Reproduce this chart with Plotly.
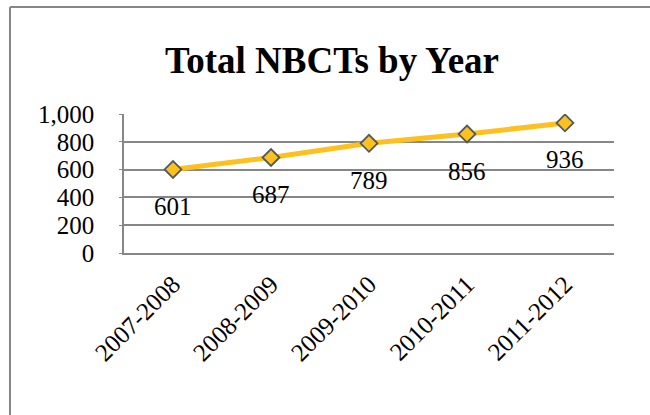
import plotly.graph_objects as go

years = ["2007-2008", "2008-2009", "2009-2010", "2010-2011", "2011-2012"]
nbcts = [601, 687, 789, 856, 936]
y_ticks = [0, 200, 400, 600, 800, 1000]

FONT = "Liberation Serif"
GOLD = "#FDC01E"
GRID = "#878787"

fig = go.Figure()
fig.add_trace(go.Scatter(
    x=years, y=nbcts, mode="lines+markers",
    line=dict(color=GOLD, width=5),
    marker=dict(symbol="diamond", size=13, color=GOLD,
                line=dict(color="#4F5B5B", width=1.8)),
    hoverinfo="x+y", showlegend=False,
))

for x, v in zip(years, nbcts):
    fig.add_annotation(x=x, y=v, text=str(v), showarrow=False,
                       yshift=-37, font=dict(family=FONT, size=25, color="black"))

L, R, T, B = 124, 36, 114, 162
W, H = 650, 415
pw, ph = W - L - R, H - T - B
bx0 = (10 - L) / pw
bx1 = (W - L) / pw
by1 = ((H - B) - 7) / ph
by0 = -(H - (H - B)) / ph
# outer chart border (top and left edges visible)
fig.add_shape(type="line", xref="paper", yref="paper", x0=bx0, x1=bx1, y0=by1, y1=by1,
              line=dict(color=GRID, width=2), layer="below")
fig.add_shape(type="line", xref="paper", yref="paper", x0=bx0, x1=bx0, y0=by0, y1=by1,
              line=dict(color=GRID, width=2), layer="below")

fig.update_layout(
    width=W, height=H,
    margin=dict(l=L, r=R, t=T, b=B, autoexpand=False),
    paper_bgcolor="white", plot_bgcolor="white",
    font=dict(family=FONT, color="black"),
    title=dict(text="<b>Total NBCTs by Year</b>", x=332 / W, xref="container",
               xanchor="center", y=1 - 60 / H, yref="container", yanchor="middle",
               font=dict(family=FONT, size=37, color="black")),
)
fig.update_xaxes(
    type="category", range=[-0.5, 4.5], tickangle=-45, automargin=False,
    tickfont=dict(family=FONT, size=25, color="black"),
    showline=True, linecolor=GRID, linewidth=1.5, showgrid=False,
    ticks="", ticklabelstandoff=5,
)
fig.update_yaxes(
    range=[0, 1000], tickvals=y_ticks, tickformat=",", automargin=False,
    tickfont=dict(family=FONT, size=25, color="black"),
    showgrid=True, gridcolor=GRID, gridwidth=1.5,
    showline=True, linecolor=GRID, linewidth=1.5,
    ticks="outside", ticklen=3, tickcolor=GRID, ticklabelstandoff=20,
    zeroline=False,
)

fig.write_html("out.html", config={"displayModeBar": False},
               post_script=("document.documentElement.style.overflow='hidden';"
                            "document.body.style.margin='0';"
                            "document.body.style.overflow='hidden';"))
